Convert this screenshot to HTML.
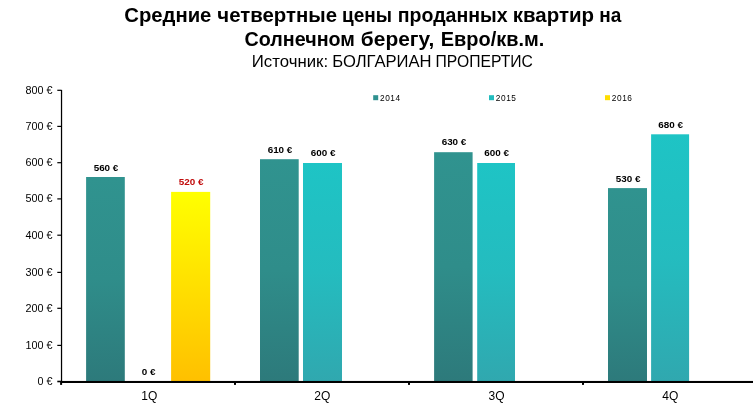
<!DOCTYPE html>
<html><head><meta charset="utf-8"><title>Средние четвертные цены</title>
<style>
html,body{margin:0;padding:0;background:#fff;}
body{width:753px;height:403px;overflow:hidden;position:relative;font-family:"Liberation Sans",sans-serif;}
svg{position:absolute;left:0;top:0;display:block}
text{font-family:"Liberation Sans",sans-serif;fill:#000}
.t1{font-size:20px;font-weight:bold}
.t3{font-size:16.2px}
.yl{font-size:10.8px;text-anchor:end}
.xl{font-size:12px;text-anchor:middle}
.dl{font-size:9.5px;font-weight:bold;text-anchor:middle}
.lg{font-size:8.3px;letter-spacing:0.55px}
</style></head><body>
<svg width="753" height="403" viewBox="0 0 753 403">
<defs>
<linearGradient id="ga" x1="0" y1="0" x2="0" y2="1"><stop offset="0" stop-color="#30938F"/><stop offset="0.5" stop-color="#2F8D8A"/><stop offset="1" stop-color="#2D7A7B"/></linearGradient>
<linearGradient id="gb" x1="0" y1="0" x2="0" y2="1"><stop offset="0" stop-color="#1EC4C5"/><stop offset="0.5" stop-color="#24BCBF"/><stop offset="1" stop-color="#30A8AF"/></linearGradient>
<linearGradient id="gc" x1="0" y1="0" x2="0" y2="1"><stop offset="0" stop-color="#FFFF00"/><stop offset="1" stop-color="#FFC000"/></linearGradient>
</defs>
<rect width="753" height="403" fill="#fff"/>
<text class="t1" transform="translate(124.24,21.8) scale(1.0142,1)">Средние</text>
<text class="t1" transform="translate(217.34,21.8) scale(1.0190,1)">четвертные</text>
<text class="t1" transform="translate(341.97,21.8) scale(0.9508,1)">цены</text>
<text class="t1" transform="translate(397.73,21.8) scale(0.9779,1)">проданных</text>
<text class="t1" transform="translate(512.76,21.8) scale(1.0234,1)">квартир</text>
<text class="t1" transform="translate(599.27,21.8) scale(0.9517,1)">на</text>
<text class="t1" transform="translate(244.56,45.8) scale(0.9859,1)">Солнечном</text>
<text class="t1" transform="translate(360.85,45.8) scale(1.0456,1)">берегу,</text>
<text class="t1" transform="translate(440.75,45.8) scale(0.9975,1)">Евро/кв.м.</text>
<text class="t3" transform="translate(251.80,66.8) scale(1.0366,1)">Источник:</text>
<text class="t3" transform="translate(332.22,66.8) scale(1.0249,1)">БОЛГАРИАН</text>
<text class="t3" transform="translate(435.59,66.8) scale(0.9685,1)">ПРОПЕРТИС</text>

<rect x="86.1" y="177.0" width="38.7" height="204.2" fill="url(#ga)"/>
<text class="dl" transform="translate(106.0,171.0) scale(1.04,1)">560 €</text>
<rect x="171.1" y="191.9" width="39.1" height="189.3" fill="url(#gc)"/>
<text class="dl" transform="translate(191.2,185.0) scale(1.04,1)" style="fill:#C00A0A">520 €</text>
<rect x="260" y="159.2" width="38.7" height="222.0" fill="url(#ga)"/>
<text class="dl" transform="translate(280.0,153.2) scale(1.04,1)">610 €</text>
<rect x="303" y="163.0" width="39.0" height="218.2" fill="url(#gb)"/>
<text class="dl" transform="translate(323.1,156.2) scale(1.04,1)">600 €</text>
<rect x="434.1" y="152.2" width="38.5" height="229.0" fill="url(#ga)"/>
<text class="dl" transform="translate(454.0,145.3) scale(1.04,1)">630 €</text>
<rect x="477.2" y="163.0" width="37.8" height="218.2" fill="url(#gb)"/>
<text class="dl" transform="translate(496.7,156.1) scale(1.04,1)">600 €</text>
<rect x="608" y="188.1" width="39.0" height="193.1" fill="url(#ga)"/>
<text class="dl" transform="translate(628.1,182.1) scale(1.04,1)">530 €</text>
<rect x="651.1" y="134.3" width="38.0" height="246.9" fill="url(#gb)"/>
<text class="dl" transform="translate(670.7,127.5) scale(1.04,1)">680 €</text>
<text class="dl" transform="translate(148.6,374.9) scale(1.04,1)">0 €</text>
<rect x="60.9" y="89.9" width="1.25" height="292" fill="#000"/>
<rect x="60.9" y="380.95" width="692.1" height="2.05" fill="#000"/>
<rect x="57.3" y="380.7" width="4" height="1.6" fill="#000"/>
<text class="yl" x="52.5" y="385.1">0 €</text>
<rect x="57.3" y="344.8" width="4" height="1.2" fill="#000"/>
<text class="yl" x="52.5" y="348.9">100 €</text>
<rect x="57.3" y="307.7" width="4" height="1.2" fill="#000"/>
<text class="yl" x="52.5" y="311.8">200 €</text>
<rect x="57.3" y="271.8" width="4" height="1.2" fill="#000"/>
<text class="yl" x="52.5" y="275.9">300 €</text>
<rect x="57.3" y="234.6" width="4" height="1.2" fill="#000"/>
<text class="yl" x="52.5" y="238.7">400 €</text>
<rect x="57.3" y="198.3" width="4" height="1.2" fill="#000"/>
<text class="yl" x="52.5" y="202.4">500 €</text>
<rect x="57.3" y="162.1" width="4" height="1.2" fill="#000"/>
<text class="yl" x="52.5" y="166.2">600 €</text>
<rect x="57.3" y="125.8" width="4" height="1.2" fill="#000"/>
<text class="yl" x="52.5" y="129.9">700 €</text>
<rect x="57.3" y="89.7" width="4" height="1.2" fill="#000"/>
<text class="yl" x="52.5" y="93.8">800 €</text>
<rect x="60.1" y="381" width="2" height="3.9" fill="#000"/>
<rect x="234.0" y="381" width="2" height="3.9" fill="#000"/>
<rect x="408.0" y="381" width="2" height="3.9" fill="#000"/>
<rect x="582.0" y="381" width="2" height="3.9" fill="#000"/>
<text class="xl" x="149.3" y="399.8">1Q</text>
<text class="xl" x="322.3" y="399.8">2Q</text>
<text class="xl" x="496.5" y="399.8">3Q</text>
<text class="xl" x="670.3" y="399.8">4Q</text>
<rect x="373.2" y="95.2" width="5" height="5" fill="#2F918F"/>
<text class="lg" x="380.0" y="100.6">2014</text>
<rect x="489" y="95.2" width="5" height="5" fill="#22BCBE"/>
<text class="lg" x="495.8" y="100.6">2015</text>
<rect x="605" y="95.2" width="5" height="5" fill="#FFDE00"/>
<text class="lg" x="611.8" y="100.6">2016</text>
</svg></body></html>
